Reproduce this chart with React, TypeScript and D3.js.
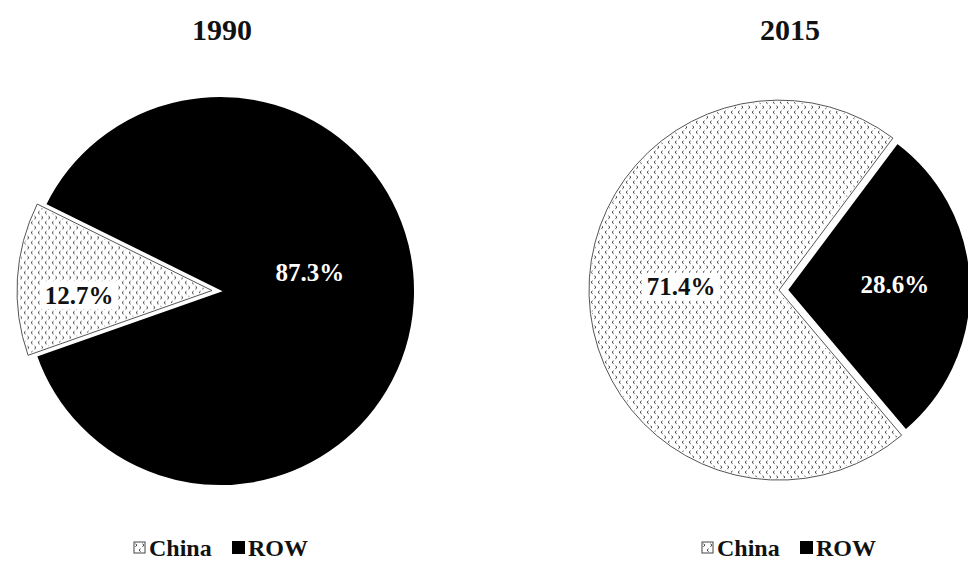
import React from "react";
import * as d3 from "d3";

const years = ["1990", "2015"];
const categories = ["China", "ROW"];
const shares1990 = [12.7, 87.3];
const shares2015 = [71.4, 28.6];
const labels1990 = ["12.7%", "87.3%"];
const labels2015 = ["71.4%", "28.6%"];

const W = 968;
const H = 574;
const FONT = "'Liberation Serif', 'Times New Roman', serif";

type PieCfg = {
  title: string;
  values: number[];
  labels: string[];
  cx: number;
  cy: number;
  radii: number[];
  startDeg: number;
  explode: number[];
  labelPolar: { deg: number; r: number }[];
  titleY: number;
  legendX: number;
};

const pies: PieCfg[] = [
  {
    title: years[0],
    values: shares1990,
    labels: labels1990,
    cx: 220,
    cy: 291,
    radii: [195, 195],
    startDeg: 250.6,
    explode: [8, 0],
    labelPolar: [
      { deg: 268, r: 133 },
      { deg: 78, r: 92 },
    ],
    titleY: 40,
    legendX: 222,
  },
  {
    title: years[1],
    values: shares2015,
    labels: labels2015,
    cx: 783,
    cy: 290,
    radii: [190, 184],
    startDeg: 139.8,
    explode: [4, 4],
    labelPolar: [
      { deg: 272, r: 98 },
      { deg: 87, r: 108 },
    ],
    titleY: 40,
    legendX: 790,
  },
];

const rad = (d: number) => (d * Math.PI) / 180;

function Pie({ cfg }: { cfg: PieCfg }) {
  const pie = d3
    .pie<number>()
    .sort(null)
    .value((d) => d)
    .startAngle(rad(cfg.startDeg))
    .endAngle(rad(cfg.startDeg + 360));
  const arcs = pie(cfg.values);
  return (
    <g>
      <text
        x={cfg.legendX}
        y={cfg.titleY}
        textAnchor="middle"
        fontFamily={FONT}
        fontWeight="bold"
        fontSize={30}
        fill="#111"
      >
        {cfg.title}
      </text>
      {arcs.map((a, i) => {
        const arcGen = d3.arc<d3.PieArcDatum<number>>().innerRadius(0).outerRadius(cfg.radii[i]);
        const mid = (a.startAngle + a.endAngle) / 2;
        const off = cfg.explode[i];
        const dx = Math.sin(mid) * off;
        const dy = -Math.cos(mid) * off;
        const isChina = i === 0;
        return (
          <g key={i} transform={`translate(${cfg.cx + dx},${cfg.cy + dy})`}>
            <path
              d={arcGen(a) || ""}
              fill={isChina ? "url(#confetti)" : "#000"}
              stroke="#fff"
              strokeWidth={isChina ? 3 : 2}
              strokeLinejoin="miter"
            />
            {isChina && (
              <path d={arcGen(a) || ""} fill="none" stroke="#555" strokeWidth={1} />
            )}
          </g>
        );
      })}
      {arcs.map((a, i) => {
        const mid = (a.startAngle + a.endAngle) / 2;
        const off = cfg.explode[i];
        const ox = cfg.cx + Math.sin(mid) * off;
        const oy = cfg.cy - Math.cos(mid) * off;
        const lp = cfg.labelPolar[i];
        const x = ox + Math.sin(rad(lp.deg)) * lp.r;
        const y = oy - Math.cos(rad(lp.deg)) * lp.r;
        const isChina = i === 0;
        return (
          <g key={"l" + i}>
            {isChina && <rect x={x - 38} y={y - 14} width={76} height={28} fill="#fff" />}
            <text
              x={x}
              y={y}
              dy="0.35em"
              textAnchor="middle"
              fontFamily={FONT}
              fontWeight="bold"
              fontSize={25}
              fill={isChina ? "#111" : "#fff"}
            >
              {cfg.labels[i]}
            </text>
          </g>
        );
      })}
      <g transform={`translate(${cfg.legendX},548)`}>
        <rect x={-88} y={-6} width={11} height={11} fill="url(#confetti)" stroke="#444" strokeWidth={1} />
        <text x={-73} y={0} dy="0.35em" fontFamily={FONT} fontWeight="bold" fontSize={24} fill="#111">
          {categories[0]}
        </text>
        <rect x={10} y={-7} width={13} height={13} fill="#000" />
        <text x={26} y={0} dy="0.35em" fontFamily={FONT} fontWeight="bold" fontSize={24} fill="#111">
          {categories[1]}
        </text>
      </g>
    </g>
  );
}

export default function App() {
  return (
    <div style={{ position: "fixed", left: 0, top: 0, width: W, height: H, background: "#fff" }}>
      <svg width={W} height={H} viewBox={`0 0 ${W} ${H}`}>
        <defs>
          <pattern id="confetti" width={7} height={10} patternUnits="userSpaceOnUse">
            <rect width={7} height={10} fill="#fff" />
            <path d="M2.6 0.8 L1 2.2 L2.6 3.6" fill="none" stroke="#333" strokeWidth={1} />
            <path d="M4.4 5.8 L6 7.2 L4.4 8.6" fill="none" stroke="#333" strokeWidth={1} />
          </pattern>
        </defs>
        <rect width={W} height={H} fill="#fff" />
        {pies.map((p, i) => (
          <Pie key={i} cfg={p} />
        ))}
      </svg>
    </div>
  );
}
